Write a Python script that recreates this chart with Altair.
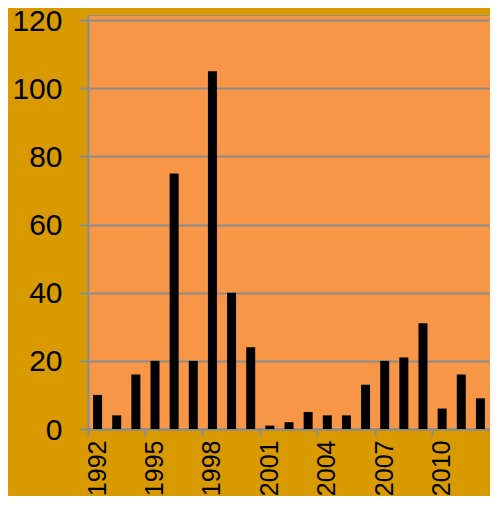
import altair as alt
import pandas as pd

years = list(range(1992, 2013))
counts = [10, 4, 16, 20, 75, 20, 105, 40, 24, 1, 2, 5, 4, 4, 13, 20, 21, 31, 6, 16, 9]
label_years = [1992, 1995, 1998, 2001, 2004, 2007, 2010]
y_ticks = [0, 20, 40, 60, 80, 100, 120]

df = pd.DataFrame({"year": years, "count": counts})

GRAY = "#8C8C8C"
FONT = "Liberation Sans"

xscale = alt.Scale(paddingInner=0, paddingOuter=0)
yscale = alt.Scale(domain=[0, 121.5], nice=False, zero=True)

bars = alt.Chart(df).mark_bar(color="black", size=9).encode(
    x=alt.X("year:O", scale=xscale, title=None,
            axis=alt.Axis(values=label_years, labelAngle=-90, ticks=False, tickSize=0,
                          labelPadding=11, labelFontSize=25, labelFont=FONT,
                          labelColor="black", domainColor=GRAY, domainWidth=2,
                          orient="bottom", grid=False)),
    y=alt.Y("count:Q", scale=yscale, title=None,
            axis=alt.Axis(values=y_ticks, grid=True, gridColor=GRAY, gridWidth=2,
                          tickSize=9, tickColor=GRAY, tickWidth=2, labelPadding=17,
                          labelOffset=1,
                          labelFontSize=30, labelFont=FONT, labelColor="black",
                          domainColor=GRAY, domainWidth=2)),
)

tick_layer = alt.Chart(df).mark_bar(opacity=0, size=9).encode(
    x=alt.X("year:O", scale=xscale, title=None,
            axis=alt.Axis(values=label_years, bandPosition=0, labels=False, ticks=True,
                          tickSize=7, tickColor=GRAY, tickWidth=2, domain=False,
                          orient="bottom", grid=False)),
    y=alt.Y("count:Q", scale=yscale),
)

chart = alt.layer(tick_layer, bars).resolve_axis(x="independent").properties(
    width=402,
    height=414,
    padding={"left": 80, "top": 7, "right": 0, "bottom": 67},
    autosize=alt.AutoSizeParams(type="none"),
    background="#D99A00",
).configure_view(fill="#F79646", stroke=GRAY, strokeWidth=1)

chart.save("out.html", embed_options={"renderer": "svg", "actions": False})
